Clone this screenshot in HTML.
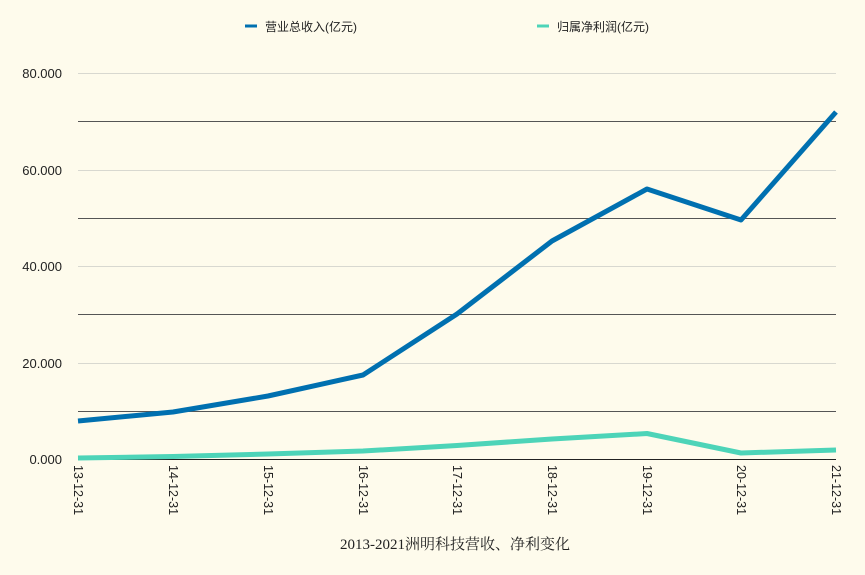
<!DOCTYPE html>
<html><head><meta charset="utf-8"><style>
html,body{margin:0;padding:0;background:#fefbec;}
svg{display:block;font-family:"Liberation Sans","Noto Sans CJK SC",sans-serif;}
</style></head><body>
<svg width="865" height="575" viewBox="0 0 865 575" xmlns="http://www.w3.org/2000/svg">
<rect width="865" height="575" fill="#fefbec"/>
<g stroke-width="1">
<line x1="78" x2="836" y1="73.5" y2="73.5" stroke="#d8d8d0"/>
<line x1="78" x2="836" y1="121.5" y2="121.5" stroke="#555"/>
<line x1="78" x2="836" y1="170.5" y2="170.5" stroke="#d8d8d0"/>
<line x1="78" x2="836" y1="218.5" y2="218.5" stroke="#555"/>
<line x1="78" x2="836" y1="266.5" y2="266.5" stroke="#d8d8d0"/>
<line x1="78" x2="836" y1="314.5" y2="314.5" stroke="#555"/>
<line x1="78" x2="836" y1="363.5" y2="363.5" stroke="#d8d8d0"/>
<line x1="78" x2="836" y1="411.5" y2="411.5" stroke="#555"/>
<line x1="78" x2="836" y1="459.5" y2="459.5" stroke="#222"/>
</g>
<g font-size="13" fill="#222" text-anchor="end">
<text x="62" y="78">80.000</text>
<text x="62" y="175">60.000</text>
<text x="62" y="271">40.000</text>
<text x="62" y="368">20.000</text>
<text x="62" y="464">0.000</text>
</g>
<g font-size="12.5" fill="#222">
<text transform="translate(74,465) rotate(90)">13-12-31</text>
<text transform="translate(169,465) rotate(90)">14-12-31</text>
<text transform="translate(264,465) rotate(90)">15-12-31</text>
<text transform="translate(359,465) rotate(90)">16-12-31</text>
<text transform="translate(453,465) rotate(90)">17-12-31</text>
<text transform="translate(548,465) rotate(90)">18-12-31</text>
<text transform="translate(643,465) rotate(90)">19-12-31</text>
<text transform="translate(737,465) rotate(90)">20-12-31</text>
<text transform="translate(832,465) rotate(90)">21-12-31</text>
</g>
<polyline fill="none" stroke="#4dd4b8" stroke-width="5" stroke-linejoin="round" points="78,458 173,456.5 268,454 363,451 457,445.5 552,439 647,433.5 741,453 836,450"/>
<polyline fill="none" stroke="#0070b0" stroke-width="5" stroke-linejoin="round" points="78,421 173,412 268,396 363,375 457,314 552,241 647,189 741,220 836,112"/>
<line x1="245" x2="257" y1="26" y2="26" stroke="#0070b0" stroke-width="3"/>
<text x="265" y="31" font-size="12" fill="#222">营业总收入(亿元)</text>
<line x1="537" x2="549" y1="26" y2="26" stroke="#4dd4b8" stroke-width="3"/>
<text x="557" y="31" font-size="12" fill="#222">归属净利润(亿元)</text>
<text x="455" y="549" font-size="15" fill="#222" text-anchor="middle" font-family="Liberation Serif,Noto Serif CJK SC,serif">2013-2021洲明科技营收、净利变化</text>
</svg>
</body></html>
